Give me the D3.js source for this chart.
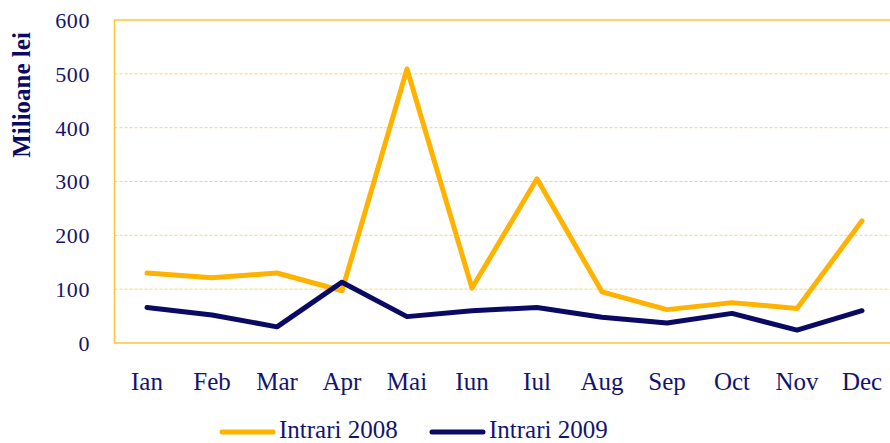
<!DOCTYPE html>
<html>
<head>
<meta charset="utf-8">
<script src="https://cdn.jsdelivr.net/npm/d3@7"></script>
<style>
  html, body { margin: 0; padding: 0; background: #fff; }
  svg { display: block; }
  svg text { font-family: "Liberation Serif", "Times New Roman", serif; }
</style>
</head>
<body>
<svg id="chart" width="890" height="443"></svg>
<script>
// Monthly inflows, millions of lei
const months = ["Ian", "Feb", "Mar", "Apr", "Mai", "Iun", "Iul", "Aug", "Sep", "Oct", "Nov", "Dec"];
const intrari2008 = [130, 121, 130, 97, 509, 102, 305, 95, 62, 75, 64, 227];
const intrari2009 = [66, 52, 30, 113, 49, 60, 66, 48, 37, 55, 24, 60];
const yTicks = [0, 100, 200, 300, 400, 500, 600];
const seriesNames = ["Intrari 2008", "Intrari 2009"];

const orange = "#FFB300";
const navy = "#0A0A64";
const textColor = "#14146E";
const serif = '"Liberation Serif", "Times New Roman", serif';

const svg = d3.select("#chart");
const plot = { left: 114.5, right: 894.5, top: 20, bottom: 343 };

const x = d3.scaleBand().domain(months).range([plot.left, plot.right]);
const y = d3.scaleLinear().domain([0, 600]).range([plot.bottom, plot.top]);
const cx = m => x(m) + x.bandwidth() / 2;

// dashed gridlines
svg.append("g")
  .selectAll("line")
  .data(yTicks.filter(t => t > 0 && t < 600))
  .join("line")
  .attr("x1", plot.left).attr("x2", plot.right)
  .attr("y1", d => y(d)).attr("y2", d => y(d))
  .attr("stroke", "#FFD36B").attr("stroke-width", 1)
  .attr("stroke-dasharray", "3,2");

// plot border
svg.append("rect")
  .attr("x", plot.left).attr("y", plot.top)
  .attr("width", plot.right - plot.left).attr("height", plot.bottom - plot.top)
  .attr("fill", "none").attr("stroke", "#FFC637").attr("stroke-width", 1.5);

// y axis labels
const yAxis = d3.axisLeft(y).tickValues(yTicks).tickSize(0).tickPadding(0);
svg.append("g")
  .attr("transform", "translate(90,0)")
  .call(yAxis)
  .attr("font-family", null)
  .call(g => g.select(".domain").remove())
  .call(g => g.selectAll("text")
    .attr("dy", "0.34em")
    .attr("fill", textColor)
    .style("font-family", serif)
    .style("font-size", "22px")
    .style("letter-spacing", "0.6px"));

// x axis labels
const xAxis = d3.axisBottom(x).tickSize(0).tickPadding(0);
svg.append("g")
  .attr("transform", "translate(0,390)")
  .call(xAxis)
  .attr("font-family", null)
  .call(g => g.select(".domain").remove())
  .call(g => g.selectAll("text")
    .attr("y", 0).attr("dy", 0)
    .attr("fill", textColor)
    .style("font-family", serif)
    .style("font-size", "25px"));

// y axis title
svg.append("text")
  .attr("transform", "translate(30,95) rotate(-90)")
  .attr("text-anchor", "middle")
  .attr("fill", navy)
  .style("font-family", serif)
  .style("font-size", "25px")
  .style("font-weight", "bold")
  .text("Milioane lei");

// series lines
const line = d3.line().x((d, i) => cx(months[i])).y(d => y(d));
const series = [
  { name: seriesNames[0], values: intrari2008, color: orange },
  { name: seriesNames[1], values: intrari2009, color: navy }
];
svg.append("g")
  .selectAll("path")
  .data(series)
  .join("path")
  .attr("d", d => line(d.values))
  .attr("fill", "none")
  .attr("stroke", d => d.color)
  .attr("stroke-width", 5)
  .attr("stroke-linejoin", "round")
  .attr("stroke-linecap", "round");

// legend
const legendX = [222, 432];
const legend = svg.append("g")
  .selectAll("g")
  .data(series)
  .join("g")
  .attr("transform", (d, i) => `translate(${legendX[i]},432)`);
legend.append("line")
  .attr("x1", 0).attr("x2", 51).attr("y1", 0).attr("y2", 0)
  .attr("stroke", d => d.color).attr("stroke-width", 5)
  .attr("stroke-linecap", "round");
legend.append("text")
  .attr("x", 57).attr("y", 6)
  .attr("fill", textColor)
  .style("font-family", serif)
  .style("font-size", "25px")
  .text(d => d.name);
</script>
</body>
</html>
